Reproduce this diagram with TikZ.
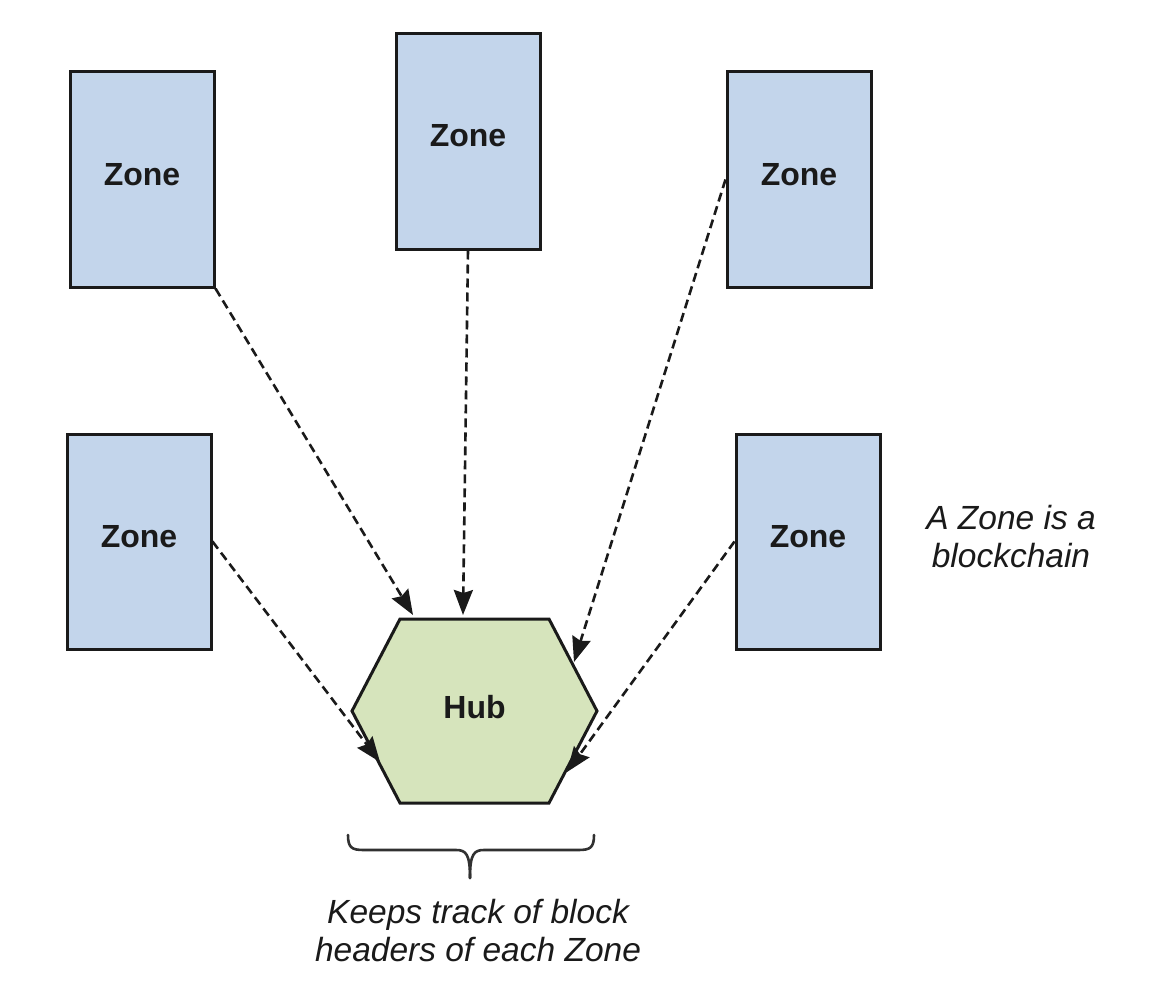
\documentclass[tikz,border=0pt]{standalone}
\usepackage{fontspec}
\setmainfont{Liberation Sans}
\usetikzlibrary{arrows.meta}
\definecolor{zoneblue}{RGB}{195,213,235}
\definecolor{hubgreen}{RGB}{214,228,188}
\definecolor{inkdark}{RGB}{26,26,26}
\begin{document}
\begin{tikzpicture}[x=1pt,y=-1pt,
  zonebox/.style={draw=inkdark,line width=3pt,fill=zoneblue,minimum width=144pt,minimum height=215pt,inner sep=0pt,text=inkdark},
  zonetext/.style={font=\fontsize{32}{38}\selectfont\bfseries,text=inkdark,inner sep=0pt},
  conn/.style={draw=inkdark,line width=2.6pt,dash pattern=on 9pt off 5pt,-{Stealth[length=25pt,width=19pt,inset=3pt]}},
  note/.style={font=\fontsize{33.5}{38}\selectfont\itshape,text=inkdark,align=center,inner sep=0pt}]
\useasboundingbox (0,0) rectangle (1160,998);
\fill[white] (0,0) rectangle (1160,998);
\node[zonebox] (z1) at (142,179.5) {};
\node[zonebox] (z2) at (468,141.5) {};
\node[zonebox] (z3) at (799,179.5) {};
\node[zonebox] (z4) at (139,541.5) {};
\node[zonebox] (z5) at (808,541.5) {};
\node[zonetext] (l1) at (142,175) {Zone};
\node[zonetext] (l2) at (468,136) {Zone};
\node[zonetext] (l3) at (799,175) {Zone};
\node[zonetext] (l4) at (139,537) {Zone};
\node[zonetext] (l5) at (808,537) {Zone};
\draw[inkdark,line width=3pt,fill=hubgreen,line join=miter]
  (400,619) -- (549,619) -- (597,711) -- (549,803) -- (400,803) -- (352,711) -- cycle;
\node[zonetext] (hub) at (474.5,707) {Hub};
\coordinate (t1) at (413,615);
\coordinate (t2) at (463,615);
\coordinate (t3) at (574,662);
\coordinate (t4) at (380,762);
\coordinate (t5) at (567,772);
\draw[conn] (z1.south east) -- (t1);
\draw[conn] (z2.south) -- (t2);
\draw[conn] (z3.west) -- (t3);
\draw[conn] (z4.east) -- (t4);
\draw[conn] (z5.west) -- (t5);
\coordinate (bl) at (348,835);
\coordinate (br) at (594,835);
\coordinate (btip) at (470,878);
\draw[inkdark!90,line width=2.6pt,line cap=round]
  (bl) .. controls (348,848) and (352,850) .. (364,850) -- (456,850)
  .. controls (466,850) and (470,854) .. (btip);
\draw[inkdark!90,line width=2.6pt,line cap=round]
  (br) .. controls (594,848) and (590,850) .. (578,850) -- (484,850)
  .. controls (474,850) and (470,854) .. (btip);
\node[note] (n1) at (478,931) {Keeps track of block\\headers of each Zone};
\node[note] (n2) at (1011,537) {A Zone is a\\blockchain};
\end{tikzpicture}
\end{document}
